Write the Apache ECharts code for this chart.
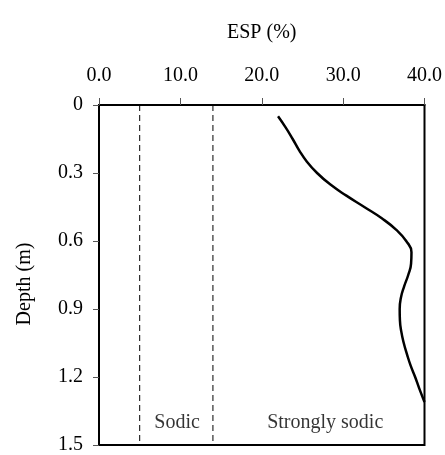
<!DOCTYPE html>
<html>
<head>
<meta charset="utf-8">
<script src="https://cdn.jsdelivr.net/npm/echarts@6/dist/echarts.min.js"></script>
<style>
  html, body { margin: 0; padding: 0; background: #fff; }
  #chart { width: 445px; height: 455px; }
</style>
</head>
<body>
<div id="chart"></div>
<script>
// ESP profile with depth
const depths = [0.05, 0.10, 0.15, 0.20, 0.25, 0.30, 0.35, 0.40, 0.45, 0.50, 0.55, 0.60, 0.65,
                0.70, 0.75, 0.80, 0.85, 0.90, 0.95, 1.00, 1.05, 1.10, 1.15, 1.20, 1.25, 1.31];
const espValues = [22.0, 22.95, 23.8, 24.6, 25.55, 26.8, 28.4, 30.4, 32.6, 34.75, 36.5, 37.75, 38.4,
                   38.35, 38.0, 37.5, 37.1, 36.95, 36.98, 37.15, 37.45, 37.85, 38.3, 38.85, 39.35, 40.0];

// Sodicity class boundaries (ESP %)
const thresholds = [5, 14];
const classLabels = ['Sodic', 'Strongly sodic'];
const classLabelX = [9.6, 27.8];
const classLabelDepth = 1.40;

const xTicks = [0, 10, 20, 30, 40];
const yTicks = [0, 0.3, 0.6, 0.9, 1.2, 1.5];

const FONT = '"Liberation Serif", "Times New Roman", serif';

const chart = echarts.init(document.getElementById('chart'));

const series = [];
thresholds.forEach(function (t) {
  series.push({
    type: 'line',
    data: [[t, yTicks[0]], [t, yTicks[yTicks.length - 1]]],
    symbol: 'none',
    lineStyle: { color: '#000', width: 1, type: [6, 4] },
    silent: true,
    z: 3
  });
});
series.push({
  type: 'line',
  data: depths.map(function (d, i) { return [espValues[i], d]; }),
  smooth: 0.5,
  symbol: 'none',
  lineStyle: { color: '#000', width: 2.5 },
  z: 4
});
series.push({
  type: 'scatter',
  data: classLabels.map(function (l, i) { return [classLabelX[i], classLabelDepth, l]; }),
  symbolSize: 0,
  label: {
    show: true,
    position: 'inside',
    formatter: function (p) { return p.data[2]; },
    color: '#000',
    fontFamily: FONT,
    fontSize: 20
  },
  silent: true,
  z: 5
});

chart.setOption({
  animation: false,
  backgroundColor: '#fff',
  grid: {
    left: 99, right: 20, top: 105, bottom: 7,
    show: true, borderColor: '#000', borderWidth: 2, backgroundColor: 'transparent'
  },
  xAxis: {
    type: 'value',
    position: 'top',
    min: xTicks[0], max: xTicks[xTicks.length - 1], interval: 10,
    name: 'ESP (%)',
    nameLocation: 'middle',
    nameGap: 62,
    nameTextStyle: { color: '#000', fontFamily: FONT, fontSize: 20 },
    axisLine: { show: true, lineStyle: { color: '#000', width: 2 } },
    axisTick: { show: true, inside: false, length: 7, lineStyle: { color: '#555', width: 1 } },
    axisLabel: {
      color: '#000', fontFamily: FONT, fontSize: 20, margin: 19,
      formatter: function (v) { return v.toFixed(1); }
    },
    splitLine: { show: false }
  },
  yAxis: {
    type: 'value',
    inverse: true,
    min: yTicks[0], max: yTicks[yTicks.length - 1], interval: 0.3,
    name: 'Depth (m)',
    nameLocation: 'middle',
    nameRotate: 90,
    nameGap: 64,
    nameTextStyle: { color: '#000', fontFamily: FONT, fontSize: 20, padding: [0, 18, 0, 0] },
    axisLine: { show: true, lineStyle: { color: '#000', width: 2 } },
    axisTick: { show: true, inside: false, length: 6, lineStyle: { color: '#555', width: 1 } },
    axisLabel: {
      color: '#000', fontFamily: FONT, fontSize: 20, margin: 16,
      formatter: function (v) { return v === 0 ? '0' : v.toFixed(1); }
    },
    splitLine: { show: false }
  },
  series: series
});
</script>
</body>
</html>
